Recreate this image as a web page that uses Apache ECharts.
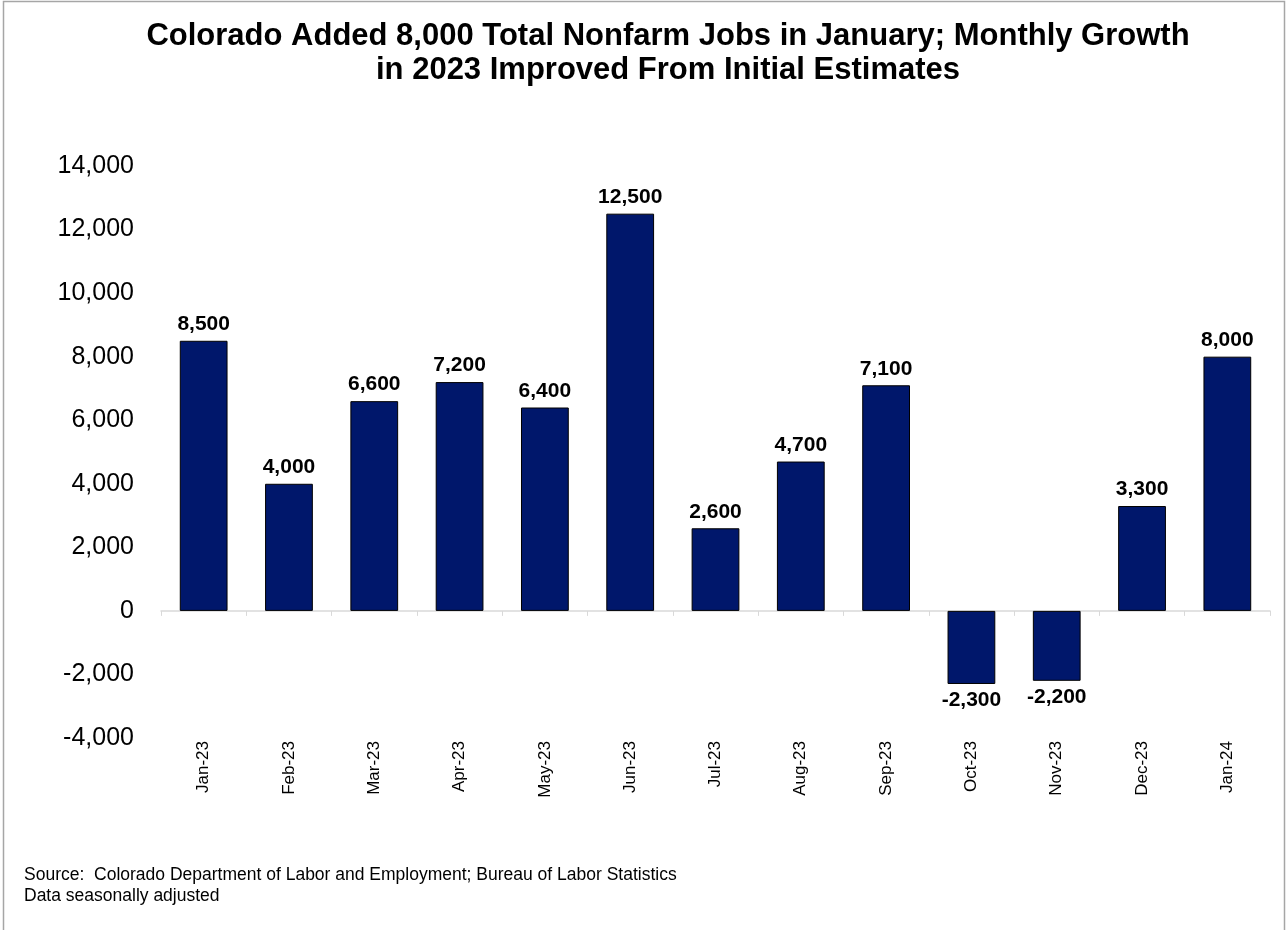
<!DOCTYPE html>
<html>
<head>
<meta charset="utf-8">
<script src="https://cdn.jsdelivr.net/npm/echarts@6/dist/echarts.min.js"></script>
<style>
  html, body { margin: 0; padding: 0; background: #fff; }
  #chart { width: 1286px; height: 930px; }
</style>
</head>
<body>
<div id="chart"></div>
<script>
var months = ["Jan-23", "Feb-23", "Mar-23", "Apr-23", "May-23", "Jun-23", "Jul-23",
  "Aug-23", "Sep-23", "Oct-23", "Nov-23", "Dec-23", "Jan-24"];
var jobs = [8500, 4000, 6600, 7200, 6400, 12500, 2600, 4700, 7100, -2300, -2200, 3300, 8000];
var titleLines = ["Colorado Added 8,000 Total Nonfarm Jobs in January; Monthly Growth",
  "in 2023 Improved From Initial Estimates"];
var sourceLines = ["Source:  Colorado Department of Labor and Employment; Bureau of Labor Statistics",
  "Data seasonally adjusted"];

var font = "Arial, 'Liberation Sans', sans-serif";
var myChart = echarts.init(document.getElementById("chart"));

function fmt(v) {
  return (v < 0 ? "-" : "") + Math.abs(v).toString().replace(/\B(?=(\d{3})+(?!\d))/g, ",");
}

// negative bars get their label under the bar end
var barData = jobs.map(function (v) {
  return { value: v, label: { position: v < 0 ? "bottom" : "top" } };
});

myChart.setOption({
  animation: false,
  title: {
    text: titleLines.join("\n"),
    left: 663,
    top: 14,
    textAlign: "center",
    textStyle: { fontFamily: font, fontSize: 31, fontWeight: "bold", color: "#000", lineHeight: 34 }
  },
  graphic: [
    {
      type: "rect",
      shape: { x: 3.5, y: 1.5, width: 1281, height: 940 },
      style: { fill: null, stroke: "#a6a6a6", lineWidth: 1.5 }
    },
    {
      type: "text",
      left: 24,
      top: 865,
      style: { text: sourceLines.join("\n"), font: "17.5px " + font, fill: "#000", lineHeight: 21 }
    }
  ],
  grid: { left: 161, right: 16, top: 166, bottom: 192 },
  xAxis: [
    {
      type: "category",
      data: months,
      axisLine: { onZero: false, show: false },
      axisTick: { show: false },
      axisLabel: { rotate: 90, margin: 3, fontFamily: font, fontSize: 17, color: "#000" }
    },
    {
      type: "category",
      data: months,
      position: "bottom",
      axisLine: { onZero: true, lineStyle: { color: "#d9d9d9", width: 1.5 } },
      axisTick: { show: true, length: 5, lineStyle: { color: "#d9d9d9" } },
      axisLabel: { show: false }
    }
  ],
  yAxis: {
    type: "value",
    min: -4000,
    max: 14000,
    interval: 2000,
    axisLine: { show: false },
    axisTick: { show: false },
    splitLine: { show: false },
    axisLabel: {
      margin: 27,
      fontFamily: font,
      fontSize: 25,
      color: "#000",
      formatter: fmt
    }
  },
  series: [
    {
      type: "bar",
      xAxisIndex: 0,
      data: barData,
      barWidth: "56%",
      itemStyle: { color: "#00176b", borderColor: "#000", borderWidth: 1 },
      label: {
        show: true,
        position: "top",
        distance: 6,
        fontFamily: font,
        fontSize: 21,
        fontWeight: "bold",
        color: "#000",
        formatter: function (p) { return fmt(p.value); }
      }
    }
  ]
});
</script>
</body>
</html>
